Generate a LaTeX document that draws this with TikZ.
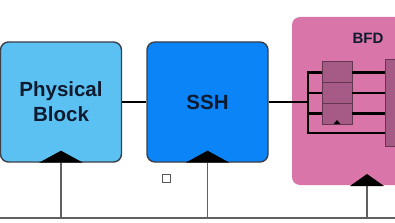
\documentclass[tikz,border=0pt]{standalone}
\usepackage{fontspec}
\setmainfont{Liberation Sans}
\usetikzlibrary{positioning, calc}
\definecolor{physblue}{HTML}{5BC1F2}
\definecolor{sshblue}{HTML}{0B84F8}
\definecolor{bfdpink}{HTML}{D975A8}
\definecolor{bfdmauve}{HTML}{A65A86}
\definecolor{boxedge}{HTML}{3A3F48}
\definecolor{labelnavy}{HTML}{0E1A2E}

\begin{document}
\begin{tikzpicture}[x=1pt, y=-1pt,
  block/.style={draw=boxedge, line width=1.4pt, rounded corners=8pt, minimum width=121pt,
    minimum height=120pt, align=center, inner sep=0pt, text=labelnavy,
    font=\bfseries\fontsize{20.5}{25}\selectfont},
  cell/.style={draw=bfdmauve!60!black, fill=bfdmauve, line width=1pt, minimum width=30pt,
    minimum height=20.7pt, inner sep=0pt, outer sep=0pt},
  link/.style={line width=2.8pt, black},
  tap/.style={draw=gray!75!black, line width=1.6pt}]

\clip (0,0) rectangle (395,222);

% ---- main blocks --------------------------------------------------------
\node[block, fill=physblue] (phys) at (61,102) {Physical\\Block};
\node[block, fill=sshblue]  (ssh)  at (207.5,102) {SSH};
\node[fill=bfdpink, rounded corners=8pt, minimum width=130pt, minimum height=168pt,
  inner sep=0pt] (bfd) at (357,101) {};
\node[font=\bfseries\fontsize{15}{18}\selectfont, text=labelnavy] (bfdlabel) at (368,38) {BFD};
\node[draw=gray!70!black, fill=white, line width=0.8pt, minimum size=8pt, inner sep=0pt]
  (marker) at (166.5,178) {};

% ---- inside BFD ---------------------------------------------------------
\node[cell] (q1) at (337,72.3) {};
\node[cell, below=0pt of q1] (q2) {};
\node[cell, below=0pt of q2] (q3) {};
\fill (q3.south) ++(-3.5,0) -- ++(3.5,-4) -- ++(3.5,4) -- cycle;
\node[fill=bfdmauve, draw=bfdmauve!60!black, line width=1pt, minimum width=40pt,
  minimum height=87pt, inner sep=0pt] (sink) at (405,102.5) {};

\coordinate (fork) at (308,102);
\coordinate (tail) at (308,133);
\draw[link] (q1.west) -- (fork |- q1.west) -- (tail) -- (tail -| sink.west);
\draw[link] (fork |- q2.west) -- (q2.west);
\draw[link] (fork |- q3.west) -- (q3.west);
\draw[link] (q1.east) -- (q1.east -| sink.west);
\draw[link] (q2.east) -- (q2.east -| sink.west);
\draw[link] (q3.east) -- (q3.east -| sink.west);

% ---- data path ----------------------------------------------------------
\draw[link] (phys.east) -- (ssh.west);
\draw[link] (ssh.east) -- (fork);

% ---- bus and taps -------------------------------------------------------
\coordinate (busL) at (0,218);
\coordinate (busR) at (395,218);
\coordinate (bfdport) at (367,185);
\draw[tap] (busL) -- (busR);
\draw[tap] (phys.south) -- (phys.south |- busL);
\draw[tap] (ssh.south) -- (ssh.south |- busL);
\draw[tap] (bfdport) -- (bfdport |- busL);
\fill (phys.south) ++(-22,0) -- ++(22,-12) -- ++(22,12) -- cycle;
\fill (ssh.south) ++(-22,0) -- ++(22,-12) -- ++(22,12) -- cycle;
\fill (bfdport) ++(-17,1) -- ++(17,-12) -- ++(17,12) -- cycle;
\end{tikzpicture}
\end{document}
